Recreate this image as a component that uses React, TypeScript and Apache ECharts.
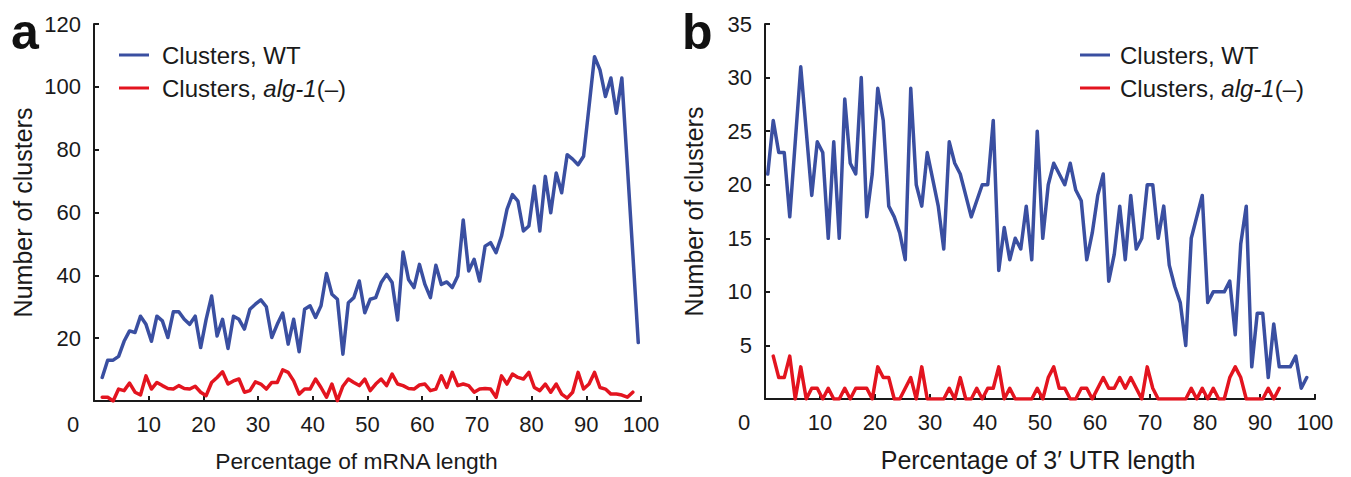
import React, { useEffect, useRef } from "react";
import * as echarts from "echarts";

// Panel a: percentage of mRNA length (bins 2..100 for WT, 2..99 for alg-1)
const aWT: number[] = [
  7.5, 13, 13, 14.2, 19, 22.3, 21.8, 27, 24.4, 19,
  27, 25.5, 20.2, 28.4, 28.4, 26, 24.4, 27, 17, 26,
  33.4, 20.7, 26, 16.7, 27, 26, 22.9, 29.2, 30.8, 32.2,
  30, 20.2, 24.4, 28, 18.1, 26, 15.7, 29.2, 30.3, 26.6,
  30.3, 40.6, 34, 32.4, 14.9, 31.3, 32.9, 38.2, 28.1, 32.4,
  32.9, 37.7, 40.3, 37.7, 25.8, 47.4, 38.7, 36.1, 43.5, 37.1,
  32.9, 43.2, 37.1, 37.9, 36.1, 39.8, 57.6, 41.4, 45.1, 38.2,
  49.3, 50.4, 47.2, 52.5, 61, 65.7, 63.6, 54.1, 55.7, 68.4,
  54.1, 71.5, 59.9, 72.6, 66.3, 78.4, 77, 75.2, 77.9, 93.7,
  109.6, 105.4, 96.9, 102.8, 91.6, 102.8, 75, 47, 18.6,
];
const aAlg: number[] = [
  1.2, 1.2, 0, 3.8, 3.3, 5.7, 2.8, 1.9, 8, 3.8,
  5.9, 4.9, 4, 3.8, 4.9, 4, 3.8, 4.7, 2.8, 1.7,
  5.9, 7.5, 9.3, 5.4, 6.4, 7, 2.8, 3.3, 6.1, 5.4,
  3.8, 5.9, 5.9, 9.9, 9.1, 6.4, 2.2, 3.8, 3.8, 7,
  4.3, 1.2, 5.4, 0.1, 4.7, 7, 5.9, 4.9, 7, 3.3,
  5.4, 7, 4.9, 8.6, 5.4, 4.9, 4, 3.8, 5.1, 5.4,
  3.3, 3.8, 8, 4.3, 9.1, 4.9, 5.4, 4.9, 2.8, 3.8,
  4, 3.8, 1.2, 8, 5.4, 8.6, 7.5, 7, 9.1, 4.3,
  3.3, 5.4, 2.8, 5.4, 2.2, 0.9, 2.8, 9.1, 3.8, 5.4,
  9.1, 4.3, 3.8, 2.2, 2.2, 1.9, 1.2, 2.8,
];
const aWTStart = 2;
const aAlgStart = 2;

// Panel b: percentage of 3' UTR length (bins 1..99 for WT, 2..94 for alg-1)
const bWT: number[] = [
  21, 26, 23, 23, 17, 24, 31, 25, 19, 24,
  23, 15, 24, 15, 28, 22, 21, 30, 17, 21,
  29, 26, 18, 17, 15.5, 13, 29, 20, 18, 23,
  20.5, 18, 14, 24, 22, 21, 19, 17, 18.5, 20,
  20, 26, 12, 16, 13, 15, 14, 18, 13, 25,
  15, 20, 22, 21, 20, 22, 19.5, 18.5, 13, 15.5,
  19, 21, 11, 13.5, 18, 13, 19, 14, 15, 20,
  20, 15, 18, 12.5, 10.5, 9, 5, 15, 17, 19,
  9, 10, 10, 10, 11, 6, 14.5, 18, 3, 8,
  8, 2, 7, 3, 3, 3, 4, 1, 2,
];
const bAlg: number[] = [
  4, 2, 2, 4, 0, 3, 0, 1, 1, 0,
  1, 0, 0, 1, 0, 1, 1, 1, 0, 3,
  2, 2, 0, 0, 1, 2, 0, 3, 0, 0,
  0, 0, 1, 0, 2, 0, 0, 1, 0, 1,
  1, 3, 0, 1, 0, 0, 0, 0, 1, 0,
  2, 3, 1, 1, 0, 0, 1, 1, 0, 1,
  2, 1, 1, 2, 1, 2, 1, 0, 3, 1,
  0, 0, 0, 0, 0, 0, 1, 0, 1, 0,
  1, 0, 0, 2, 3, 2, 0, 0, 0, 0,
  1, 0, 1,
];
const bWTStart = 1;
const bAlgStart = 2;

const nameWT = "Clusters, WT";
const nameAlg = "Clusters, alg-1(–)";
const xNameA = "Percentage of mRNA length";
const xNameB = "Percentage of 3′ UTR length";
const yName = "Number of clusters";

const BLUE = "#3a4fa1";
const RED = "#e3141f";
const FONT = "'Liberation Sans', Arial, Helvetica, sans-serif";
const INK = "#1a1a1a";

// bins plotted at their centres
const toPairs = (vals: number[], start: number) =>
  vals.map((v, i) => [start + i - 0.5, v]);

export default function App() {
  const ref = useRef<HTMLDivElement>(null);
  useEffect(() => {
    document.body.style.margin = "0";
    if (!ref.current) return;
    const chart = echarts.init(ref.current, undefined, { renderer: "svg" });

    const xAxisCommon = (gridIndex: number, name: string, fs: number, shift: number) => ({
      type: "value",
      gridIndex,
      min: 0,
      max: 100,
      interval: 10,
      name,
      nameLocation: "middle",
      nameGap: 48,
      nameTextStyle: { fontSize: fs, color: INK, fontFamily: FONT, padding: [0, shift, 0, 0] },
      axisLine: { show: true, lineStyle: { color: INK, width: 2 } },
      axisTick: { show: true, inside: true, length: 5, lineStyle: { color: INK, width: 2 } },
      splitLine: { show: false },
      axisLabel: {
        fontSize: 22,
        color: INK,
        fontFamily: FONT,
        margin: 12,
        formatter: (v: number) => (v === 0 ? "{z|0}" : String(v)),
        rich: {
          z: { fontSize: 22, color: INK, fontFamily: FONT, padding: [0, 42, 0, 0] },
        },
      },
    });

    const yAxisCommon = (gridIndex: number, max: number, interval: number) => ({
      type: "value",
      gridIndex,
      min: 0,
      max,
      interval,
      name: yName,
      nameLocation: "middle",
      nameGap: 59,
      nameTextStyle: { fontSize: 25, color: INK, fontFamily: FONT },
      axisLine: { show: true, lineStyle: { color: INK, width: 2 } },
      axisTick: { show: true, inside: true, length: 5, lineStyle: { color: INK, width: 2 } },
      splitLine: { show: false },
      axisLabel: {
        fontSize: 22,
        color: INK,
        fontFamily: FONT,
        margin: 13,
        formatter: (v: number) => (v === 0 ? "" : String(v)),
      },
    });

    const legendCommon = (left: number, pad: number) => ({
      orient: "vertical",
      left,
      top: 38,
      icon: "rect",
      itemWidth: 30,
      itemHeight: 3,
      itemGap: 9,
      data: [nameWT, nameAlg],
      textStyle: {
        fontSize: 24,
        lineHeight: 24,
        color: INK,
        fontFamily: FONT,
        padding: [0, 0, 0, pad],
        rich: {
          i: { fontSize: 24, fontStyle: "italic", color: INK, fontFamily: FONT, lineHeight: 24 },
        },
      },
      formatter: (n: string) => (n === nameAlg ? "Clusters, {i|alg-1}(–)" : n),
    });

    const lineSeries = (name: string, color: string, data: number[][], idx: number, z: number) => ({
      type: "line",
      name,
      xAxisIndex: idx,
      yAxisIndex: idx,
      data,
      showSymbol: false,
      symbol: "none",
      z,
      lineStyle: { color, width: 3.5, join: "round", cap: "round" },
      itemStyle: { color },
    });

    chart.setOption({
      animation: false,
      backgroundColor: "#ffffff",
      textStyle: { fontFamily: FONT },
      title: [
        { text: "a", left: 6, top: 2, textStyle: { fontSize: 50, fontWeight: "bold", color: "#111", fontFamily: FONT } },
        { text: "b", left: 677, top: 2, textStyle: { fontSize: 50, fontWeight: "bold", color: "#111", fontFamily: FONT } },
      ],
      legend: [legendCommon(114, 8), legendCommon(1075, 5)],
      grid: [
        { left: 94, right: 710, top: 24, bottom: 75 },
        { left: 765, right: 36, top: 24, bottom: 75 },
      ],
      xAxis: [xAxisCommon(0, xNameA, 22.8, 22), xAxisCommon(1, xNameB, 25, 4)],
      yAxis: [yAxisCommon(0, 120, 20), yAxisCommon(1, 35, 5)],
      series: [
        lineSeries(nameAlg, RED, toPairs(aAlg, aAlgStart), 0, 2),
        lineSeries(nameWT, BLUE, toPairs(aWT, aWTStart), 0, 3),
        lineSeries(nameAlg, RED, toPairs(bAlg, bAlgStart), 1, 2),
        lineSeries(nameWT, BLUE, toPairs(bWT, bWTStart), 1, 3),
      ],
    });
    return () => chart.dispose();
  }, []);
  return <div ref={ref} style={{ width: 1351, height: 477 }} />;
}
